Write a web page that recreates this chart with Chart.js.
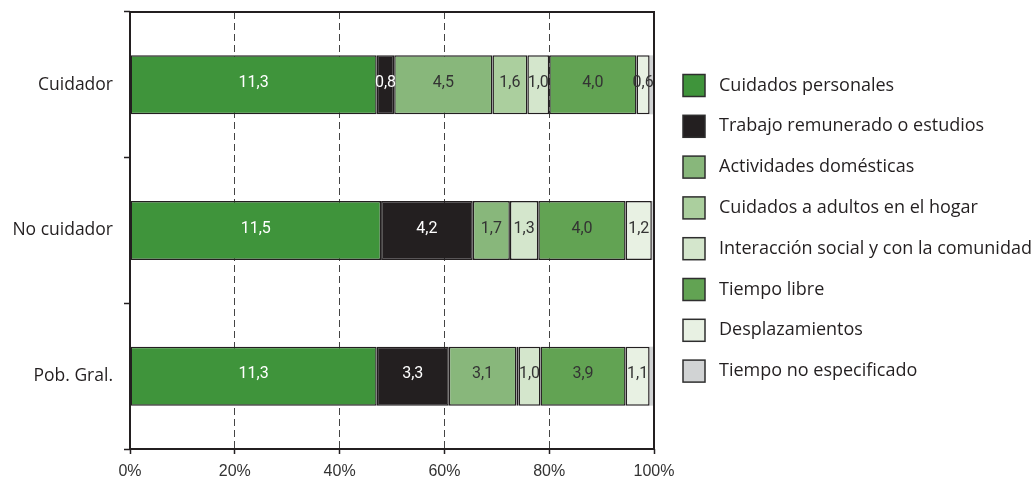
<!DOCTYPE html>
<html>
<head>
<meta charset="utf-8">
<script src="https://cdn.jsdelivr.net/npm/chart.js@4/dist/chart.umd.min.js"></script>
<style>
  html, body { margin: 0; padding: 0; background: #ffffff; }
  #wrap { width: 1035px; height: 481px; position: relative; }
</style>
</head>
<body>
<div id="wrap"><canvas id="c" width="1035" height="481"></canvas></div>
<script>
// Groups (rows of the stacked bars)
const groups = ['Cuidador', 'No cuidador', 'Pob. Gral.'];

// Activity categories (one stacked segment each), hours per day
const activities = [
  'Cuidados personales',
  'Trabajo remunerado o estudios',
  'Actividades domésticas',
  'Cuidados a adultos en el hogar',
  'Interacción social y con la comunidad',
  'Tiempo libre',
  'Desplazamientos',
  'Tiempo no especificado'
];

const cuidadosPersonales   = [11.3, 11.5, 11.3];
const trabajoEstudios      = [0.8, 4.2, 3.3];
const actividadesDomest    = [4.5, 1.7, 3.1];
const cuidadosAdultos      = [1.6, 0, 0.1];
const interaccionSocial    = [1.0, 1.3, 1.0];
const tiempoLibre          = [4.0, 4.0, 3.9];
const desplazamientos      = [0.6, 1.2, 1.1];
const tiempoNoEspecificado = [0.2, 0.1, 0.2];

// Hours in a day: the full width of each bar
const hoursPerDay = 24;
// Tick labels along the bottom axis (share of the day)
const tickPercents = [0, 20, 40, 60, 80, 100];

const seriesValues = [
  cuidadosPersonales, trabajoEstudios, actividadesDomest, cuidadosAdultos,
  interaccionSocial, tiempoLibre, desplazamientos, tiempoNoEspecificado
];
const fills = ['#3f943b', '#231f20', '#88b77b', '#abcf9e', '#d4e6cc', '#62a353', '#e8f1e3', '#d1d3d4'];
const labelColours = ['#ffffff', '#ffffff', '#333333', '#333333', '#333333', '#333333', '#333333', null];
const ink = '#231f20';

const datasets = activities.map((name, i) => ({
  label: name,
  data: seriesValues[i],
  backgroundColor: fills[i],
  borderColor: ink,
  borderWidth: i === 7 ? 0 : 1.5,
  borderSkipped: false,
  barPercentage: 0.405,
  categoryPercentage: 1.0
}));

const fmt = v => v.toFixed(1).replace('.', ',');

// Value labels centred in every segment
const segmentLabels = {
  id: 'segmentLabels',
  afterDatasetsDraw(chart) {
    const ctx = chart.ctx;
    ctx.save();
    ctx.font = '16px Roboto, "Liberation Sans", sans-serif';
    ctx.textAlign = 'center';
    ctx.textBaseline = 'middle';
    chart.data.datasets.forEach((ds, di) => {
      if (!labelColours[di]) return;
      const meta = chart.getDatasetMeta(di);
      meta.data.forEach((bar, j) => {
        const v = ds.data[j];
        if (!v || v < 0.5) return;
        const p = bar.getProps(['x', 'base', 'y'], true);
        ctx.fillStyle = labelColours[di];
        ctx.fillText(fmt(v), (p.x + p.base) / 2, p.y - 2);
      });
    });
    ctx.restore();
  }
};

// Solid frame around the plotting area
const frame = {
  id: 'frame',
  afterDatasetsDraw(chart) {
    const a = chart.chartArea;
    const ctx = chart.ctx;
    ctx.save();
    ctx.strokeStyle = ink;
    ctx.lineWidth = 2;
    ctx.strokeRect(a.left, a.top, a.right - a.left, a.bottom - a.top);
    ctx.restore();
  }
};

// Legend list on the right
const sideLegend = {
  id: 'sideLegend',
  afterDraw(chart) {
    const ctx = chart.ctx;
    const boxX = 683, box = 22, textX = 719, firstY = 85.5, step = 40.8;
    ctx.save();
    ctx.font = '18px "Open Sans", sans-serif';
    ctx.textAlign = 'left';
    ctx.textBaseline = 'middle';
    chart.data.datasets.forEach((ds, i) => {
      const cy = firstY + i * step;
      ctx.fillStyle = ds.backgroundColor;
      ctx.fillRect(boxX, cy - box / 2, box, box);
      ctx.strokeStyle = '#2e2e2e';
      ctx.lineWidth = 1.5;
      ctx.strokeRect(boxX, cy - box / 2, box, box);
      ctx.fillStyle = ink;
      ctx.fillText(ds.label, textX, cy);
    });
    ctx.restore();
  }
};

new Chart(document.getElementById('c'), {
  type: 'bar',
  data: { labels: groups, datasets },
  options: {
    indexAxis: 'y',
    responsive: false,
    animation: false,
    layout: { padding: { top: 12, right: 381, left: 0, bottom: 0 } },
    plugins: { legend: { display: false }, tooltip: { enabled: false } },
    scales: {
      x: {
        stacked: true,
        min: 0,
        max: hoursPerDay,
        afterBuildTicks(scale) {
          scale.ticks = tickPercents.map(p => ({ value: p * hoursPerDay / 100 }));
        },
        afterFit(scale) {
          scale.height = 32;
          scale.paddingLeft = 0;
          scale.paddingRight = 0;
        },
        ticks: {
          callback: (v, i) => tickPercents[i] + '%',
          color: '#333333',
          font: { family: '"Liberation Sans", Arial, sans-serif', size: 16 },
          padding: 8,
          maxRotation: 0
        },
        grid: {
          color: '#444444',
          lineWidth: 1,
          drawTicks: true,
          tickLength: 5,
          tickColor: ink,
          tickWidth: 1.5
        },
        border: { display: false, dash: [7, 4] }
      },
      y: {
        stacked: true,
        afterFit(scale) {
          scale.width = 130;
          scale.paddingTop = 0;
          scale.paddingBottom = 0;
        },
        ticks: {
          color: ink,
          font: { family: '"Open Sans", sans-serif', size: 17.5 },
          padding: 11
        },
        grid: {
          offset: true,
          drawOnChartArea: false,
          drawTicks: true,
          tickLength: 6,
          tickColor: ink,
          tickWidth: 1.5
        },
        border: { display: false }
      }
    }
  },
  plugins: [segmentLabels, frame, sideLegend]
});
</script>
</body>
</html>
